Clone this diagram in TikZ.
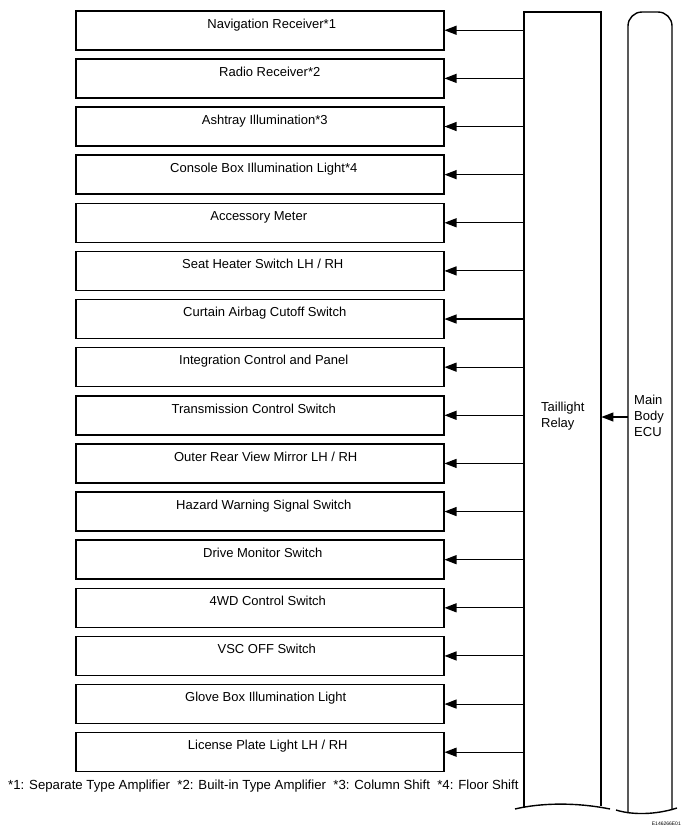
\documentclass[tikz,border=0pt]{standalone}
\usepackage{fontspec}
\setmainfont{Liberation Sans}
\usetikzlibrary{arrows.meta}
\begin{document}
\begin{tikzpicture}[x=1pt,y=-1pt,
  unit/.style={draw, line width=1.5pt, minimum width=368pt, minimum height=39pt, anchor=north west, inner sep=0pt},
  lbl/.style={font=\fontsize{13}{15}\selectfont, anchor=base, inner sep=0pt},
  feed/.style={line width=1.1pt, -{Triangle[length=12pt,width=9pt]}},
  outline/.style={line width=1.4pt},
  txt/.style={font=\fontsize{13}{16}\selectfont, align=left, inner sep=0pt}
]
\useasboundingbox (0,0) rectangle (692,836);
% relay and ECU frames
\node[minimum width=77pt, minimum height=796pt, anchor=north west, inner sep=0pt] (relay) at (524,12) {};
\node[minimum width=44pt, minimum height=796pt, anchor=north west, inner sep=0pt] (ecu) at (628,12) {};
\draw[outline] (524,808) -- (524,12) -- (601,12) -- (601,806);
\draw[outline] (515,809) .. controls (540,803) and (575,802) .. (610,809);
\draw[outline] (628,813) -- (628,26) arc[start angle=180,end angle=270,radius=14] -- (658,12) arc[start angle=270,end angle=360,radius=14] -- (672,810);
\draw[outline] (616,810) .. controls (632,815) and (655,815) .. (677,808);
\node[txt, anchor=base west] (rlbl) at (541,427) {Taillight\\Relay};
\node[txt, anchor=base west] (elbl) at (634,436) {Main\\Body\\ECU};
\coordinate (ecuin) at (628,417);
\draw[feed] (ecuin) -- (ecuin -| relay.east);
% units
\foreach \i/\t/\dx in {
  0/{Navigation Receiver*1}/12,
  1/{Radio Receiver*2}/10,
  2/{Ashtray Illumination*3}/5,
  3/{Console Box Illumination Light*4}/4,
  4/{Accessory Meter}/-1,
  5/{Seat Heater Switch LH / RH}/3,
  6/{Curtain Airbag Cutoff Switch}/5,
  7/{Integration Control and Panel}/4,
  8/{Transmission Control Switch}/-6,
  9/{Outer Rear View Mirror LH / RH}/6,
  10/{Hazard Warning Signal Switch}/4,
  11/{Drive Monitor Switch}/3,
  12/{4WD Control Switch}/8,
  13/{VSC OFF Switch}/7,
  14/{Glove Box Illumination Light}/6,
  15/{License Plate Light LH / RH}/8}{
  \pgfmathsetmacro{\yy}{10+48.13*\i}
  \node[unit] (u\i) at (75,\yy) {};
  \node[lbl] (t\i) at ([xshift=\dx pt, yshift=-18pt]u\i.north) {\t};
  \draw[feed] (relay.west |- u\i.east) -- (u\i.east);
}
\node[font=\fontsize{13.2}{15}\selectfont, anchor=base west, inner sep=0pt] (notes) at (8,789)
  {*1: Separate Type Amplifier\ \ *2: Built-in Type Amplifier\ \ *3: Column Shift\ \ *4: Floor Shift};
\node[font=\fontsize{5}{6}\selectfont, anchor=base east, inner sep=0pt] (code) at (681,825) {E146266E01};
\end{tikzpicture}
\end{document}
